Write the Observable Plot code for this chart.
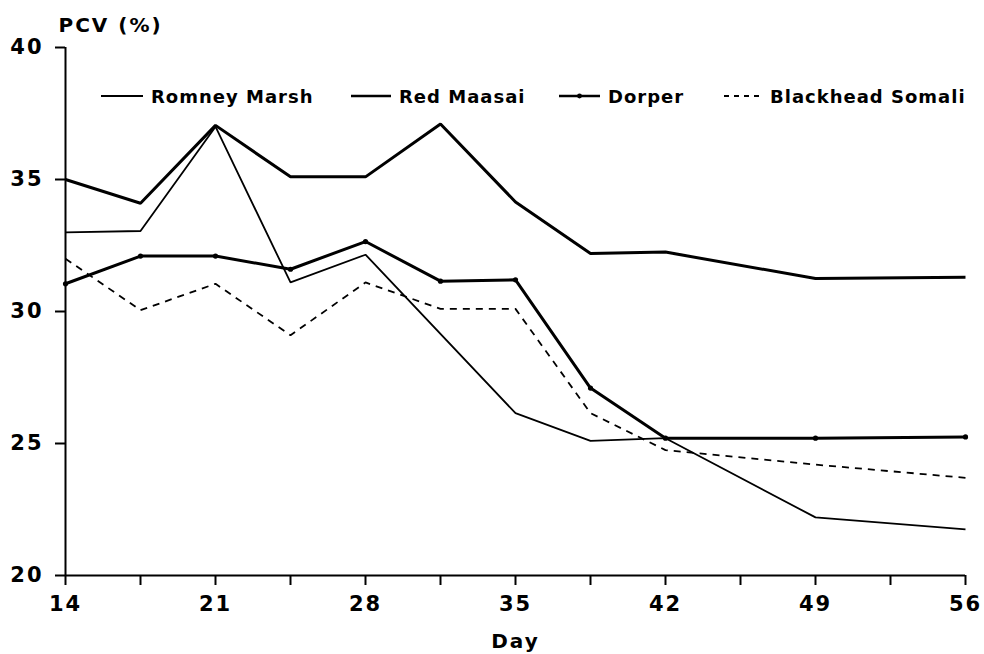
<!DOCTYPE html>
<html><head><meta charset="utf-8">
<script src="https://cdn.jsdelivr.net/npm/d3@7"></script>
<script src="https://cdn.jsdelivr.net/npm/@observablehq/plot@0.6"></script>
<style>
body{margin:0;background:#fff}
#wrap{position:relative;width:984px;height:654px;font-family:"DejaVu Sans",sans-serif;font-weight:bold;color:#000}
#wrap svg{position:absolute;left:0;top:0}
.leg{position:absolute;top:87px;display:flex;align-items:center;font-size:18px;letter-spacing:1px;white-space:nowrap;line-height:20px}
.leg svg{position:static !important;margin-right:8px}
</style></head>
<body><div id="wrap"></div>
<script>
// ---- data ----
const days = [14, 17.5, 21, 24.5, 28, 31.5, 35, 38.5, 42, 49, 56];
const romneyMarsh     = [33, 33.05, 37, 31.1, 32.15, null, 26.15, 25.1, 25.2, 22.2, 21.75];
const redMaasai       = [35, 34.1, 37.05, 35.1, 35.1, 37.1, 34.15, 32.2, 32.25, 31.25, 31.3];
const dorper          = [31.05, 32.1, 32.1, 31.6, 32.65, 31.15, 31.2, 27.1, 25.2, 25.2, 25.25];
const blackheadSomali = [32, 30.05, 31.05, 29.1, 31.1, 30.1, 30.1, 26.15, 24.75, 24.2, 23.7];
const seriesNames = ["Romney Marsh", "Red Maasai", "Dorper", "Blackhead Somali"];
const xTicks = [14, 21, 28, 35, 42, 49, 56];
const xMinorTicks = [14, 17.5, 21, 24.5, 28, 31.5, 35, 38.5, 42, 45.5, 49, 52.5, 56];
const yTicks = [20, 25, 30, 35, 40];
const yLabel = "PCV (%)";
const xLabel = "Day";

// ---- styles ----
const styles = {
  "Romney Marsh":     {strokeWidth: 1.8, dash: null, dots: false},
  "Red Maasai":       {strokeWidth: 3, dash: null, dots: false},
  "Dorper":           {strokeWidth: 3, dash: null, dots: true},
  "Blackhead Somali": {strokeWidth: 1.8, dash: "7,6", dots: false}
};
const legendLeft = {"Romney Marsh": 101, "Red Maasai": 351, "Dorper": 559, "Blackhead Somali": 724};
const legendSwatch = {"Romney Marsh": 42, "Red Maasai": 40, "Dorper": 41, "Blackhead Somali": 38};

const valuesBy = {"Romney Marsh": romneyMarsh, "Red Maasai": redMaasai, "Dorper": dorper, "Blackhead Somali": blackheadSomali};
const rows = (name) => days.map((d, i) => ({day: d, pcv: valuesBy[name][i], breed: name})).filter(r => r.pcv != null);

const lineMarks = [];
for (const name of seriesNames) {
  const s = styles[name];
  lineMarks.push(Plot.line(rows(name), {x: "day", y: "pcv", stroke: "#000", strokeWidth: s.strokeWidth,
    strokeDasharray: s.dash || undefined, strokeLinejoin: "miter", strokeLinecap: "butt"}));
  if (s.dots) lineMarks.push(Plot.dot(rows(name), {x: "day", y: "pcv", r: 2.6, fill: "#000"}));
}

const chart = Plot.plot({
  width: 984, height: 654,
  marginLeft: 65, marginRight: 19, marginTop: 47, marginBottom: 79,
  x: {domain: [14, 56], axis: null},
  y: {domain: [20, 40], axis: null},
  style: {fontFamily: "DejaVu Sans, sans-serif", fontWeight: "bold", fontSize: "20px", color: "#000", background: "transparent", overflow: "visible"},
  marks: [
    Plot.axisX({ticks: xMinorTicks, tickSize: 10, tickFormat: () => "", strokeWidth: 2, label: null}),
    Plot.axisX({ticks: xTicks, tickSize: 0, tickPadding: 21, fontSize: 21, tickFormat: d => String(d), label: null}),
    Plot.axisY({ticks: yTicks, tickSize: 10, tickPadding: 12, fontSize: 21, strokeWidth: 2, label: null, tickFormat: d => String(d)}),
    Plot.ruleX([14], {stroke: "#000", strokeWidth: 2}),
    Plot.ruleY([20], {stroke: "#000", strokeWidth: 2}),
    ...lineMarks,
    Plot.text([yLabel], {frameAnchor: "top-left", textAnchor: "start", lineAnchor: "bottom", dx: -7, dy: -16, fontSize: 20, fontWeight: "bold"}),
    Plot.text([xLabel], {frameAnchor: "bottom", textAnchor: "middle", lineAnchor: "bottom", dy: 72, fontSize: 20, fontWeight: "bold"})
  ]
});
chart.querySelectorAll("text").forEach(t => t.style.letterSpacing = "2px");
const wrap = document.getElementById("wrap");
wrap.appendChild(chart);

// ---- legend (overlay) ----
for (const name of seriesNames) {
  const s = styles[name];
  const w = legendSwatch[name];
  const item = document.createElement("div");
  item.className = "leg";
  item.style.left = legendLeft[name] + "px";
  const ns = "http://www.w3.org/2000/svg";
  const sw = document.createElementNS(ns, "svg");
  sw.setAttribute("width", w); sw.setAttribute("height", 20);
  const ln = document.createElementNS(ns, "line");
  ln.setAttribute("x1", 0); ln.setAttribute("x2", w); ln.setAttribute("y1", 9); ln.setAttribute("y2", 9);
  ln.setAttribute("stroke", "#000"); ln.setAttribute("stroke-width", s.dash ? 1.8 : (s.strokeWidth > 2 ? 2.6 : 1.8));
  if (s.dash) ln.setAttribute("stroke-dasharray", "5,5");
  sw.appendChild(ln);
  if (s.dots) {
    const c = document.createElementNS(ns, "circle");
    c.setAttribute("cx", w / 2); c.setAttribute("cy", 9); c.setAttribute("r", 2.4); c.setAttribute("fill", "#000");
    sw.appendChild(c);
  }
  item.appendChild(sw);
  const tx = document.createElement("span");
  tx.textContent = name;
  item.appendChild(tx);
  wrap.appendChild(item);
}
</script></body></html>
